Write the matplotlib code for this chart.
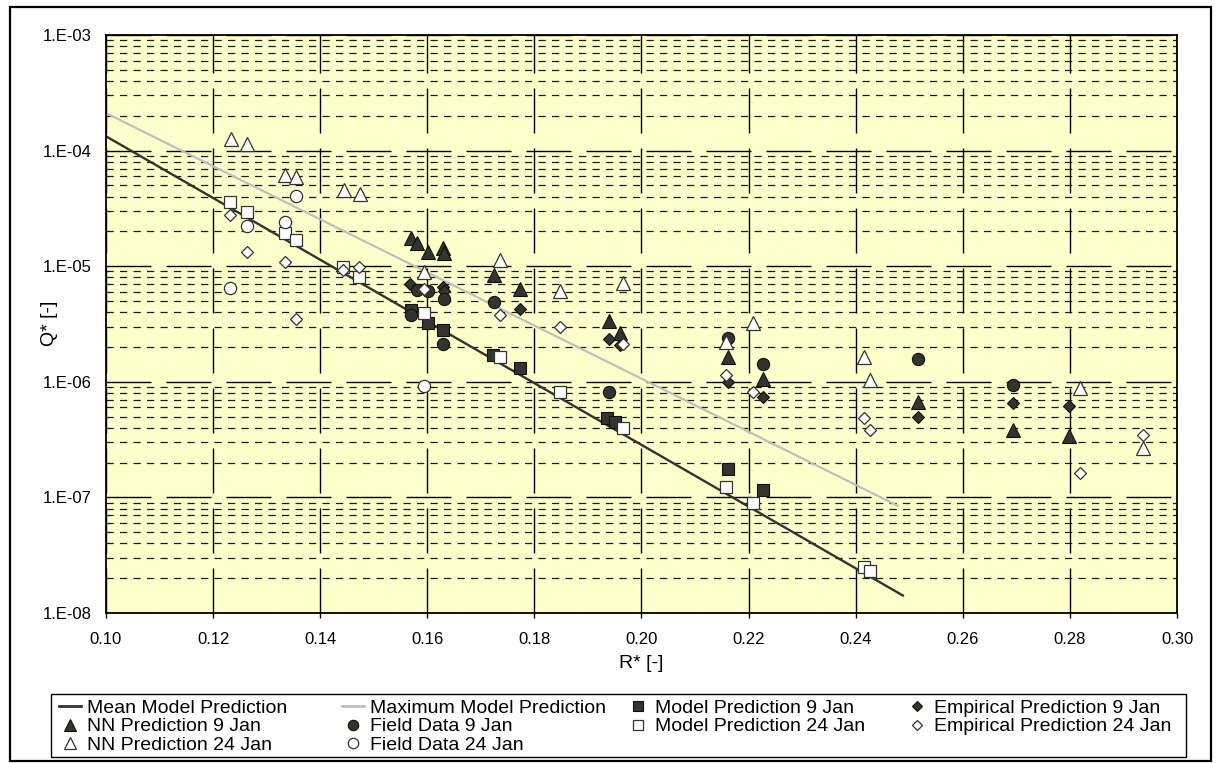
import matplotlib
matplotlib.use("Agg")
import matplotlib.pyplot as plt
from matplotlib.lines import Line2D
from matplotlib.patches import Rectangle
from matplotlib.ticker import FixedLocator, FixedFormatter, LogLocator, NullFormatter

plt.rcParams['font.family'] = ['Liberation Sans', 'DejaVu Sans']

# ---------------- data ----------------
mean_r = [0.10, 0.249]
mean_q = [1.33e-4, 1.40e-8]
max_r = [0.10, 0.248]
max_q = [2.11e-4, 8.4e-8]

model9_r = [0.157, 0.1602, 0.163, 0.1723, 0.1774, 0.1935, 0.195, 0.2162, 0.2226]
model9_q = [4.2e-6, 3.2e-6, 2.8e-6, 1.7e-6, 1.32e-6, 4.9e-7, 4.5e-7, 1.76e-7, 1.16e-7]

emp9_r = [0.1568, 0.163, 0.1632, 0.1774, 0.194, 0.1959, 0.2162, 0.2226, 0.2516, 0.2693, 0.2798]
emp9_q = [7.0e-6, 6.6e-6, 6.1e-6, 4.27e-6, 2.35e-6, 2.08e-6, 1.0e-6, 7.4e-7, 5.0e-7, 6.6e-7, 6.2e-7]

nn9_r = [0.157, 0.1581, 0.1602, 0.163, 0.1632, 0.1725, 0.1774, 0.194, 0.1959, 0.2162, 0.2226, 0.2516, 0.2693, 0.2798]
nn9_q = [1.75e-5, 1.58e-5, 1.33e-5, 1.44e-5, 1.29e-5, 8.4e-6, 6.4e-6, 3.36e-6, 2.64e-6, 1.64e-6, 1.06e-6, 6.7e-7, 3.8e-7, 3.4e-7]

field9_r = [0.157, 0.158, 0.1602, 0.1632, 0.163, 0.1725, 0.194, 0.2162, 0.2226, 0.2516, 0.2693]
field9_q = [3.8e-6, 6.2e-6, 6.1e-6, 5.2e-6, 2.12e-6, 4.9e-6, 8.2e-7, 2.4e-6, 1.43e-6, 1.57e-6, 9.4e-7]

model24_r = [0.1232, 0.1264, 0.1335, 0.1355, 0.1443, 0.1473, 0.1594, 0.1735, 0.1847, 0.1966, 0.2157, 0.2209, 0.2415, 0.2426]
model24_q = [3.6e-5, 2.95e-5, 1.94e-5, 1.69e-5, 9.8e-6, 8.1e-6, 3.9e-6, 1.64e-6, 8.2e-7, 4.0e-7, 1.23e-7, 8.9e-8, 2.5e-8, 2.3e-8]

emp24_r = [0.1232, 0.1264, 0.1335, 0.1355, 0.1443, 0.1473, 0.1594, 0.1735, 0.1847, 0.1966, 0.2157, 0.2209, 0.2415, 0.2426, 0.2819, 0.2937]
emp24_q = [2.77e-5, 1.33e-5, 1.09e-5, 3.5e-6, 9.3e-6, 9.8e-6, 6.4e-6, 3.8e-6, 3.0e-6, 2.12e-6, 1.15e-6, 8.2e-7, 4.9e-7, 3.8e-7, 1.63e-7, 3.5e-7]

nn24_r = [0.1234, 0.1264, 0.1335, 0.1355, 0.1445, 0.1475, 0.1594, 0.1735, 0.1847, 0.1966, 0.2157, 0.2209, 0.2415, 0.2426, 0.2819, 0.2937]
nn24_q = [1.26e-4, 1.14e-4, 6.1e-5, 5.9e-5, 4.6e-5, 4.2e-5, 8.9e-6, 1.13e-5, 6.1e-6, 7.2e-6, 2.2e-6, 3.2e-6, 1.64e-6, 1.04e-6, 8.9e-7, 2.7e-7]

field24_r = [0.1355, 0.1335, 0.1264, 0.1232, 0.1594]
field24_q = [4.05e-5, 2.41e-5, 2.23e-5, 6.5e-6, 9.2e-7]

x_ticks = [0.10, 0.12, 0.14, 0.16, 0.18, 0.20, 0.22, 0.24, 0.26, 0.28, 0.30]
x_labels = ['0.10', '0.12', '0.14', '0.16', '0.18', '0.20', '0.22', '0.24', '0.26', '0.28', '0.30']
y_ticks = [1e-8, 1e-7, 1e-6, 1e-5, 1e-4, 1e-3]
y_labels = ['1.E-08', '1.E-07', '1.E-06', '1.E-05', '1.E-04', '1.E-03']

# ---------------- figure ----------------
W, H = 1219, 763
fig = plt.figure(figsize=(W / 100, H / 100), dpi=100)
fig.patch.set_facecolor('white')

L, R, T, B = 106, 1177, 35, 613
ax = fig.add_axes([L / W, 1 - B / H, (R - L) / W, (B - T) / H])
ax.set_facecolor('#FFFFCC')
ax.set_yscale('log')
ax.set_xlim(0.10, 0.30)
ax.set_ylim(1e-8, 1e-3)

ax.xaxis.set_major_locator(FixedLocator(x_ticks))
ax.xaxis.set_major_formatter(FixedFormatter(x_labels))
ax.yaxis.set_major_locator(FixedLocator(y_ticks))
ax.yaxis.set_major_formatter(FixedFormatter(y_labels))
ax.yaxis.set_minor_locator(LogLocator(base=10, subs=range(2, 10), numticks=20))
ax.yaxis.set_minor_formatter(NullFormatter())

ax.tick_params(axis='x', which='major', direction='out', length=3.5, width=1, pad=10.5, labelsize=12)
ax.tick_params(axis='y', which='major', length=0, pad=10, labelsize=12)
ax.tick_params(axis='y', which='minor', length=0)

ax.set_axisbelow(True)
ax.grid(which='major', axis='both', color='black', linewidth=1.0, linestyle=(0, (32.4, 10.8)))
ax.grid(which='minor', axis='y', color='#1a1a1a', linewidth=0.9, linestyle=(0, (5.8, 5.0)))

for s in ax.spines.values():
    s.set_linewidth(1.3)
    s.set_color('black')

dark = '#333333'
mk_dark = dict(linestyle='none', markerfacecolor=dark, markeredgecolor='#111100', markeredgewidth=0.8)
mk_white = dict(linestyle='none', markerfacecolor='white', markeredgecolor='#333333', markeredgewidth=0.9)

ax.plot(mean_r, mean_q, color='#333333', linewidth=1.7, zorder=2, solid_capstyle='butt')
ax.plot(max_r, max_q, color='#BFBFBF', linewidth=1.6, zorder=2, solid_capstyle='butt')

ax.plot(model9_r, model9_q, marker='s', markersize=8.5, zorder=3, **mk_dark)
ax.plot(emp9_r, emp9_q, marker='D', markersize=6.0, zorder=3, **mk_dark)
ax.plot(nn9_r, nn9_q, marker='^', markersize=9.5, zorder=3, **mk_dark)
ax.plot(field9_r, field9_q, marker='o', markersize=8.8, zorder=3, **mk_dark)
ax.plot(model24_r, model24_q, marker='s', markersize=8.5, zorder=3, **mk_white)
ax.plot(emp24_r, emp24_q, marker='D', markersize=6.0, zorder=3, **mk_white)
ax.plot(nn24_r, nn24_q, marker='^', markersize=9.5, zorder=3, **mk_white)
ax.plot(field24_r, field24_q, marker='o', markersize=8.8, zorder=3, **mk_white)

# axis titles
fig.text((L + R) / 2 / W, 1 - 664 / H, 'R* [-]', ha='center', va='center', fontsize=14)
fig.text(49 / W, 1 - 323 / H, 'Q* [-]', ha='center', va='center', rotation=90, fontsize=14)

# ---------------- legend ----------------
lg_x0, lg_y0, lg_x1, lg_y1 = 51, 694, 1186, 757
fig.patches.append(Rectangle((lg_x0 / W, 1 - lg_y1 / H), (lg_x1 - lg_x0) / W, (lg_y1 - lg_y0) / H,
                             transform=fig.transFigure, fill=False, edgecolor='black', linewidth=1.0))

def h_line(c):
    return Line2D([], [], color=c, linewidth=2.0)

def h_mk(m, ms, style):
    return Line2D([], [], marker=m, markersize=ms, **style)

cols = [
    (59, [h_line('#333333'), h_mk('^', 8, mk_dark), h_mk('^', 8, mk_white)],
     ['Mean Model Prediction', 'NN Prediction 9 Jan', 'NN Prediction 24 Jan']),
    (342, [h_line('#BFBFBF'), h_mk('o', 7.5, mk_dark), h_mk('o', 7.5, mk_white)],
     ['Maximum Model Prediction', 'Field Data 9 Jan', 'Field Data 24 Jan']),
    (627, [h_mk('s', 7.5, mk_dark), h_mk('s', 7.5, mk_white)],
     ['Model Prediction 9 Jan', 'Model Prediction 24 Jan']),
    (906, [h_mk('D', 5.3, mk_dark), h_mk('D', 5.3, mk_white)],
     ['Empirical Prediction 9 Jan', 'Empirical Prediction 24 Jan']),
]
for x, hs, ls in cols:
    fig.legend(hs, ls, loc='upper left', bbox_to_anchor=(x / W, 1 - 699 / H),
               bbox_transform=fig.transFigure, frameon=False, fontsize=14,
               borderpad=0, borderaxespad=0, handlelength=1.13, handletextpad=0.3,
               labelspacing=0.06, handleheight=0.7)

# outer frame
fig.patches.append(Rectangle((10 / W, 1 - 761 / H), (1211 - 10) / W, (761 - 7) / H,
                             transform=fig.transFigure, fill=False, edgecolor='black', linewidth=1.6))

fig.savefig('out.png', dpi=100, facecolor='white')
